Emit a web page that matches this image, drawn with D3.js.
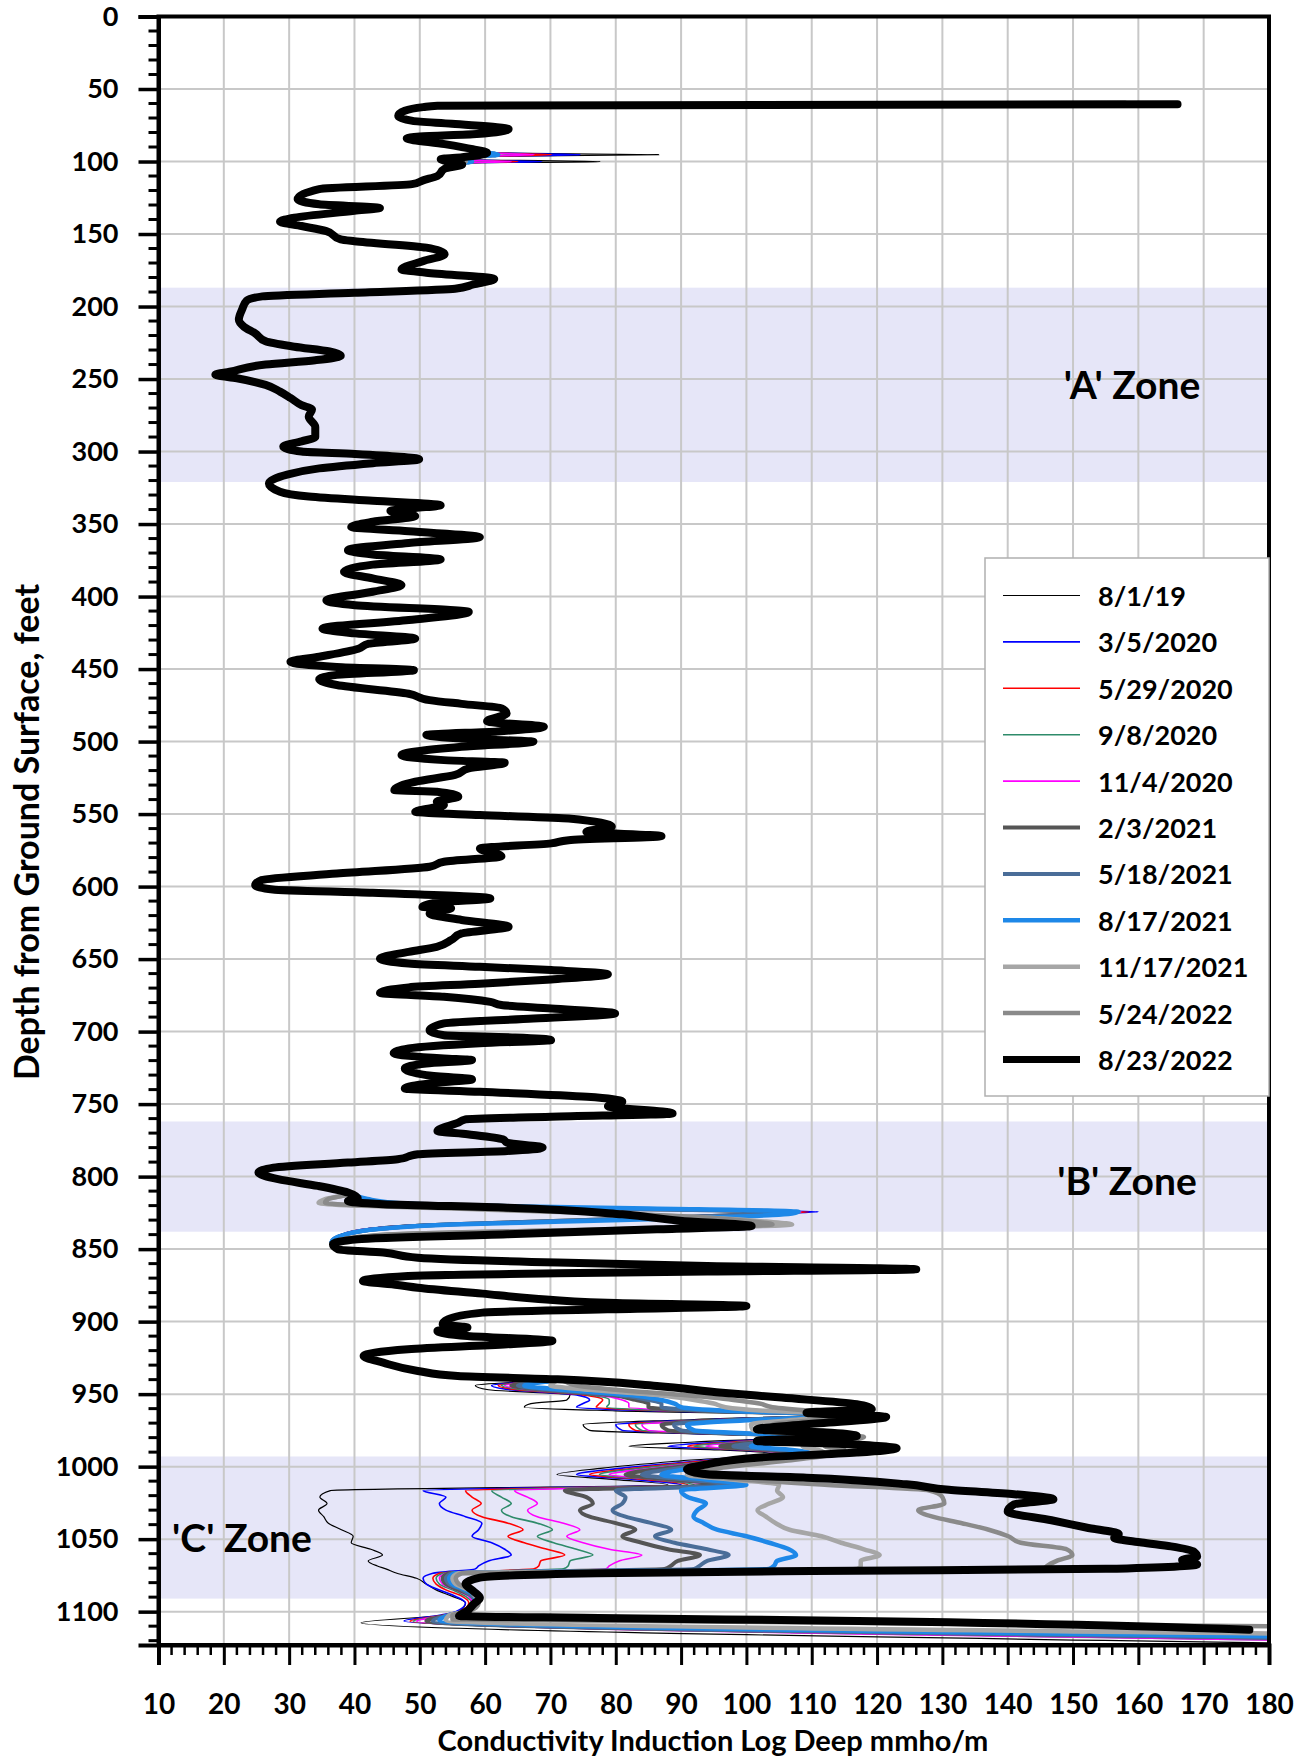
<!DOCTYPE html>
<html><head><meta charset="utf-8">
<script src="https://cdn.jsdelivr.net/npm/d3@7"></script>
<style>
body{margin:0;background:#fff;}
svg{display:block;font-family:Lato,"Open Sans","DejaVu Sans",sans-serif;font-weight:bold;}
</style>
</head><body>
<svg id="chart" width="1310" height="1758"></svg>
<script>
// ---------------- DATA ----------------
const seriesNames = ["8/1/19","3/5/2020","5/29/2020","9/8/2020","11/4/2020","2/3/2021","5/18/2021","8/17/2021","11/17/2021","5/24/2022","8/23/2022"];
const seriesColors = ["#000000","#0000ff","#ff0000","#2e8b6a","#ff00ff","#555555","#4a6d98","#1e88e8","#a6a6a6","#8a8a8a","#000000"];
const seriesWidths = [1.2,1.6,1.6,1.6,1.6,4,4,4.5,4.5,4.5,8];

const xTicks = [10,20,30,40,50,60,70,80,90,100,110,120,130,140,150,160,170,180];
const yTicks = [0,50,100,150,200,250,300,350,400,450,500,550,600,650,700,750,800,850,900,950,1000,1050,1100];

const zoneNames = ["'A' Zone","'B' Zone","'C' Zone"];
const zoneTop = [187,762,993];
const zoneBottom = [321,838,1091];

// common trace (8/23/2022), depth ft
const baseDepth = [60.5,61.5,62.5,65,68.4,72,74,77.6,81,82.7,84,88,91.5,94,97,98.4,102,105,110,113,115.6,119,126,129.5,132,134,138.7,141.5,144.5,148,153.7,155,159.4,164,168.7,174.4,176.7,181,184.8,187.8,190.5,193,196,202,209,214,218.5,224,227.7,231,234,237,240,245,247,249.5,254,258.7,263,268,271,276,283,290,293,296.6,300,301.7,305.4,308,311.6,316,322,327.7,331,334,337,339,341,344.5,348.4,352,355,359,363,368,371,374.4,378,383,387.5,392,396.7,402.6,406,410.6,416.2,422,425.4,429,432.5,436,441.5,445,448.5,450.8,454,457,461,467,471.4,474,477,480.6,486,489.8,493,495.5,498.5,500,503.6,509.3,512.8,514.6,518.5,523,527.7,533.5,534.6,538,541.5,543.8,548.4,550.7,553,558.8,562.2,565.2,568,570.2,573.7,579,582.9,586.3,591,595.5,599,602,604.3,608.2,610.5,614,615,618.5,623,627.7,632.3,636.9,641.5,645,649.6,653,655.3,657.6,660.4,664,667,669.5,673.3,676,679.5,681.7,684,687.5,691,694.4,699,702.5,704,705.9,708,711.6,715,718.5,719.6,722,725.4,730,733,735.7,739.2,741.5,745,748.3,751.4,756.4,758.7,760.5,763,768.5,770.8,774.3,776.6,780,782.3,784.6,788,790.3,793.8,797.2,801.8,806.4,811,815,816.8,819,821.4,826,830.6,834,836.3,839.8,843.2,846.7,850.1,852.4,855.9,859.3,861.6,863.9,865.5,866.7,868.5,872,874.7,876.6,880.7,884,887,889.2,891.5,893.8,898.4,901.8,904.1,906.4,909.9,913.3,915.6,919,923.7,928.3,934,937.5,939.8,944.4,949,952.4,957,960.5,962.8,965.7,970.8,974.3,976.6,978.9,982.3,984.1,987.4,990.3,993.8,998.4,1001.8,1005.3,1007.6,1012.2,1016,1019,1022.5,1026,1031,1037,1042,1046.5,1049,1052.3,1055,1058.6,1062,1064.4,1067.5,1070.5,1072,1073.5,1076.6,1081,1085.8,1090.4,1095,1099.7,1103,1104.3,1106.6,1112.5];
const baseValue = [166,52.7,50.5,47.7,46.7,48.9,54.9,63.6,58.7,50,48,53.8,58.1,60.3,56.5,53.2,56.5,53.8,52.7,50.5,48.8,34.6,31.3,34.6,43.9,40,30.8,28.6,31.9,35.7,37.9,40,51,53.8,50.5,47.2,51,61.4,58.2,55.4,40,25.9,23.5,22.8,22.3,23.1,24.8,26.4,30.8,36.2,37.9,34,26.4,20.9,18.7,22,26.4,28.6,30.2,31.9,33.5,33,34,34,31.9,29.1,31.9,40.1,49.9,42.8,34.6,29.7,26.9,28.6,33,42.8,53.2,49.3,45.5,49.3,42.8,39.5,48.3,59.2,48.3,39,42.8,53.2,42.8,38.4,42.8,47.2,42.8,35.7,40.1,57.5,48.3,35.1,40.1,49.3,42.2,40.6,34.6,30.2,37.3,49.1,37.3,34.6,37.3,48.3,51.5,56.4,62.5,63.3,60.3,69,61.9,51,59.2,67.4,56.4,47.2,53.7,63,57.5,55.4,49.3,46.1,52.6,55.9,52.6,53.7,49.3,59.2,72.8,79.4,75.5,87,72.8,70.1,59.2,62.5,53.7,51.5,37.3,25.8,24.8,27.5,42.8,60.8,53.7,50.4,54.8,51.5,56.4,63.6,56.4,54.8,52.6,48.3,43.9,48.3,59.2,70.1,78.8,70.1,59.2,48.3,43.9,53.7,60.8,62.5,70.1,79.9,67.4,53.7,51.5,53.7,64.6,70.1,59.2,48.3,46,53.7,58,51,47.7,51,58,51.5,47.7,59.2,75.6,81,78.8,88.7,70.1,57,55.8,52.7,57.3,62.7,63.4,68.8,63.4,49.7,46.6,39,27.6,25.3,28.3,34.4,39,40.5,39,44.4,63.4,81,90.2,100.8,86.3,63.4,40.5,36.7,37.5,44.4,49.7,71.1,94,126,94,71.1,48.2,41.3,46.6,49.7,59.6,67.3,78.7,100,78.7,59.6,54.3,53.5,57.3,52.7,57.3,70.3,63.4,48.2,41.4,44.4,49.7,55.8,71.1,86.3,96.3,105.4,116.9,119.2,109.2,121.4,109.2,101.6,113,116.9,101.6,113,123,116.9,101.6,94,90.9,94,109.2,124.5,131,141,147,141,140,146.7,152,157,156.3,160.5,165,168.5,169,166.7,169,155,110,77,59.2,57,58.2,59.2,58.2,57.2,56,77.4,120,177];

// starting point at the top of each log (series 0..9)
const topDepth = [60.5,60.5,60.5,60.5,60.5,60.5,60.5,60.5,59.8,59.5];
const topValue = [157,158,158,158,158,159,159,160,157,158];
// thin spikes near 95 ft and 100 ft (series 0..9)
const spikeA = [86.6,74.6,70.2,66,67.5,62,62,62,60,60];
const spikeB = [77.6,68.7,65,63,64,58,58,58,57,57];

// 'B' zone excursion, shared depths, values for series 0..9
const bDepth = [812,815.5,818,820,822,824.3,826.5,828.5,831,833,836,840,845];
const bValues = [
  [39.5,41.5,45,52,75,108,95,82,64,50,42,38,36.5],
  [39.5,41.5,45,52,78,111,97,84,65,51,42,38,36.5],
  [39.5,41.5,45,52,77,109.5,100,85,66,51,42,38,36.5],
  [39.5,41.5,45,52,76,108,96,83,65,51,42,38,36.5],
  [39.5,41.5,45,52,76,108.5,96,83,65,51,42,38,36.5],
  [39.5,41.5,45,55,78,106,99,86,68,54,44,38.5,36.5],
  [39.5,41.5,45,55,78,107,99,86,68,54,44,38.5,36.5],
  [39.5,42,46,58,85,108,104,92,72,55,44,38.5,36.5],
  [39,35.5,34.5,40,55,70,85,95,103,107,85,45,37],
  [39,36,35.5,42,57,72,86,95,101,104,82,45,37]
];

// 940-1013 ft window, values for series 0..9
const wDepth = [944,947,950.5,954,956.5,959,961.5,964.5,967.5,971,975,977.5,979.5,983,986,988.5,991,996,1001,1005.5,1009,1012.5];
const wValues = [
  [58.5,60.5,73,72.5,67,66,80,110,92,75,76,92,108,92,82,96,104,90,78,71,80,88],
  [61,64,74,76,75,74,86,112,95,80,81,95,110,96,88,99,106,93,81,74,83,90],
  [62,65,75,78,77.5,77,88,113,96,82,83,96,111,98,91,100,107,94,83,76,85,91],
  [62.5,66,76,79,79,78.6,89,113,97,83,84,97,112,99,92,101,107,95,84,77.5,86,92],
  [63,67,77,81,82,82,91,114,98,84,85,98,112,100,93.8,102,108,96,86,79,87,94],
  [64,69,79,83,85,85,93,115,100,87,88,100,113,102,96,104,108,98,88,81.5,89,96],
  [65,70,80,85,87,87,95,116,101,88.9,90,101,114,104,98,105,109,99,90,84,91,98],
  [66,72,82,87,89,90,97,117,103,90.9,92,103,115,106,100.7,107,110,101,92,87,94,100],
  [70,76,86,92,95,96.8,103,118,108,100.7,101,108,116,110,108.6,111,112,104,95,90.9,98,105],
  [74,80,90,98,102,104,110,120,112,104,106,112,118,114,112,115,114,106,96,92,100,112]
];

// 'C' zone, values for series 0..9
const cDepth = [1016.5,1021,1025.5,1030,1034.5,1039,1043.5,1048,1052.5,1057,1061,1065,1068.5,1070.5,1073.5,1077,1081,1085,1089.5,1094,1100];
const cValues = [
  [36.3,34.7,35.8,34.5,35.3,36,38,39.8,39.5,42.5,44.3,42.1,43.5,44.8,46.5,49.5,51,52.5,55,57,56],
  [50.5,54,53,54,57,59.5,59,58,61,63,64,60.5,59,58.5,52,50.5,51,53,55.5,57,55.5],
  [57,58,59.4,58,59.5,63.5,65.8,63.5,66,69.5,72.2,68.5,68.2,67.5,53,52,52.5,54,56.5,57.5,56],
  [61,62.5,64,62.5,64,68,70.3,68,70.5,74,76.5,73,72.7,72,53.5,52.5,53,55,57,58,56.5],
  [64.5,66.5,68,66.5,68,72,74.5,72.5,75,79,84,80.5,79,78.5,54,53,53.5,55.5,57.5,58,56.5],
  [72.2,75.5,76.5,74.5,76,80,83,81,84,88,92.9,89.5,88.4,87.5,54.5,53.5,54,56,58,58.5,57],
  [80,81.5,81,79.5,81.5,85.5,88.5,86,89,94,97.3,94,92.8,92,55,54,54.5,56.5,58,58.5,57],
  [90,91,93.8,92.5,91.9,93.5,95.5,100,103.5,106.5,107.6,104.7,104.2,103.5,55.5,54.5,55,57,58.5,58.5,57],
  [104.7,105.6,103.5,101.7,103,104.5,106.6,111.5,114.5,118,120.4,117.5,117.5,117,56,55,55.5,57.5,58.5,59,57],
  [128,130,130.3,126.3,128.5,133,137.1,140.1,142,149,149.9,147.5,146,145.5,56.5,55.5,56,58,59,59,57.5]
];

// bottom of each log: dip, then run off to the right edge (series 0..9)
const tailDipDepth = [1107.7,1106.4,1106.6,1106.6,1106.7,1106.5,1106.5,1106,1106,1105.5];
const tailDipValue = [41,47.6,48.5,49,49.5,51,52,53,54,55];
const tailEndDepth = [1121.5,1119,1119,1119.5,1119.5,1118,1118,1117,1115,1110];
const tailEndValue = [180,180,180,180,180,180,180,180,180,180];

// ---------------- BUILD SERIES ----------------
function buildSeries(i){
  const base = baseDepth.map((d,k)=>[d, baseValue[k]]);
  if (i === 10) return base;
  const ranges = [[59,61],[94.5,101.2],[811,846],[940,1101],[1101,1125]];
  let pts = base.filter(p => !ranges.some(r => p[0] >= r[0] && p[0] <= r[1]));
  pts.push([topDepth[i], topValue[i]]);
  pts.push([95.3, spikeA[i]],[96.5,57],[98.4,53.2],[100.1, spikeB[i]],[101,56]);
  bDepth.forEach((d,k)=>pts.push([d, bValues[i][k]]));
  wDepth.forEach((d,k)=>pts.push([d, wValues[i][k]]));
  cDepth.forEach((d,k)=>pts.push([d, cValues[i][k]]));
  pts.push([1102.5, cValues[i][cValues[i].length-1]-2.5]);
  pts.push([tailDipDepth[i], tailDipValue[i]]);
  pts.push([tailEndDepth[i], tailEndValue[i]]);
  pts.sort((a,b)=>a[0]-b[0]);
  return pts;
}

// ---------------- DRAW ----------------
const svg = d3.select("#chart");
const L = 158.5, R = 1269, T = 16.5, B = 1645;
const x = d3.scaleLinear().domain([10,180]).range([L,R]);
const y = d3.scaleLinear().domain([0,1123]).range([T,B]);
const FONT = "Lato, 'Open Sans', sans-serif";

svg.append("defs").append("clipPath").attr("id","plotclip")
  .append("rect").attr("x",L).attr("y",T).attr("width",R-L).attr("height",B-T);

// zone bands
svg.append("g").selectAll("rect").data(zoneTop).join("rect")
  .attr("x",L).attr("width",R-L)
  .attr("y",(d)=>y(d)).attr("height",(d,i)=>y(zoneBottom[i])-y(d))
  .attr("fill","#e6e6f8");

// gridlines
const grid = svg.append("g").attr("stroke","#c8c8c8").attr("stroke-width",2);
grid.selectAll("line.v").data(xTicks.slice(1,-1)).join("line").attr("class","v")
  .attr("x1",d=>x(d)).attr("x2",d=>x(d)).attr("y1",T).attr("y2",B);
grid.selectAll("line.h").data(yTicks.slice(1)).join("line").attr("class","h")
  .attr("y1",d=>y(d)).attr("y2",d=>y(d)).attr("x1",L).attr("x2",R);

// zone labels
const zoneLabelX = [1132,1127,242];
const zoneLabelY = [384,1180,1537];
svg.append("g").selectAll("text").data(zoneNames).join("text")
  .attr("x",(d,i)=>zoneLabelX[i]).attr("y",(d,i)=>zoneLabelY[i])
  .attr("text-anchor","middle").attr("dominant-baseline","central")
  .attr("font-size",39).attr("fill","#000").text(d=>d);

// series
const line = d3.line().x(p=>x(p[1])).y(p=>y(p[0])).curve(d3.curveMonotoneY);
const gS = svg.append("g").attr("clip-path","url(#plotclip)");
seriesNames.forEach((name,i)=>{
  gS.append("path").datum(buildSeries(i))
    .attr("d",line).attr("fill","none")
    .attr("stroke",seriesColors[i]).attr("stroke-width",seriesWidths[i])
    .attr("stroke-linejoin","round").attr("stroke-linecap","round");
});

// frame
svg.append("rect").attr("x",L).attr("y",T).attr("width",R-L).attr("height",B-T)
  .attr("fill","none").attr("stroke","#000").attr("stroke-width",4);

// y axis
const yAxis = d3.axisLeft(y).tickValues(yTicks).tickSize(20).tickPadding(20).tickFormat(d3.format("d"));
const gy = svg.append("g").attr("transform",`translate(${L},0)`).call(yAxis);
gy.select(".domain").attr("stroke-width",4);
gy.selectAll(".tick line").attr("stroke-width",3.5);
gy.selectAll(".tick text").attr("font-size",27).attr("font-weight","bold").attr("font-family",FONT).attr("fill","#000");
const yMinor = d3.range(0,1121,10).filter(v=>v%50!==0);
svg.append("g").selectAll("line").data(yMinor).join("line")
  .attr("x1",L-10).attr("x2",L).attr("y1",d=>y(d)).attr("y2",d=>y(d))
  .attr("stroke","#000").attr("stroke-width",3);

// x axis
const xAxis = d3.axisBottom(x).tickValues(xTicks).tickSize(20).tickPadding(29).tickFormat(d3.format("d"));
const gx = svg.append("g").attr("transform",`translate(0,${B})`).call(xAxis);
gx.select(".domain").attr("stroke-width",4);
gx.selectAll(".tick line").attr("stroke-width",3);
gx.selectAll(".tick text").attr("font-size",28).attr("font-weight","bold").attr("font-family",FONT).attr("fill","#000");
const xMinor = d3.range(10,181,2).filter(v=>v%10!==0);
svg.append("g").selectAll("line").data(xMinor).join("line")
  .attr("x1",d=>x(d)).attr("x2",d=>x(d)).attr("y1",B).attr("y2",B+10)
  .attr("stroke","#000").attr("stroke-width",2.5);

// axis titles
svg.append("text").attr("x",713).attr("y",1739).attr("text-anchor","middle")
  .attr("dominant-baseline","central").attr("font-size",29)
  .text("Conductivity Induction Log Deep mmho/m");
svg.append("text").attr("transform","translate(25,832) rotate(-90)")
  .attr("text-anchor","middle").attr("dominant-baseline","central")
  .attr("font-size",34).text("Depth from Ground Surface, feet");

// legend
const lg = svg.append("g");
lg.append("rect").attr("x",985).attr("y",558).attr("width",284).attr("height",538)
  .attr("fill","#fff").attr("stroke","#b0b0b0").attr("stroke-width",1.5);
seriesNames.forEach((name,i)=>{
  const ry = 595.5 + 46.4*i;
  lg.append("line").attr("x1",1003).attr("x2",1080).attr("y1",ry).attr("y2",ry)
    .attr("stroke",seriesColors[i]).attr("stroke-width",Math.min(seriesWidths[i],7));
  lg.append("text").attr("x",1098).attr("y",ry).attr("dominant-baseline","central")
    .attr("font-size",27).text(name);
});
</script>
</body></html>
